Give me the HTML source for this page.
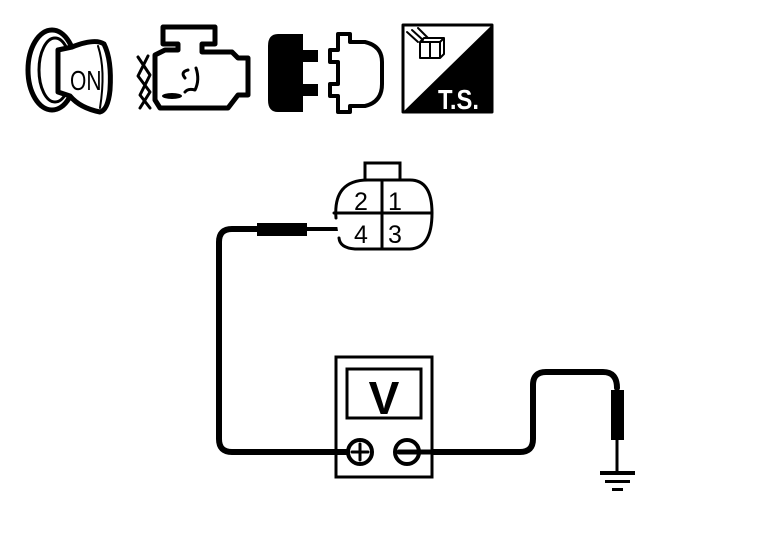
<!DOCTYPE html>
<html><head><style>html,body{margin:0;padding:0;background:#fff}svg{display:block}</style></head>
<body>
<svg width="768" height="544" viewBox="0 0 768 544" xmlns="http://www.w3.org/2000/svg">
<g fill="none" stroke="#000" stroke-linejoin="round" stroke-linecap="round">
<!-- key icon -->
<ellipse cx="52" cy="70" rx="24" ry="40" stroke-width="5"/>
<ellipse cx="55" cy="70" rx="16" ry="32" stroke-width="3"/>
<path d="M58 50 L72 47 Q95 38 104 44 Q112 60 110 90 Q108 110 100 112 Q80 108 70 96 L58 92 Z" fill="#fff" stroke-width="5"/>
<path d="M98 46 Q106 70 100 108" stroke-width="2"/>
<text x="0" y="0" font-family="Liberation Sans, sans-serif" font-size="28" fill="#000" stroke="none" transform="translate(70,90) scale(0.75,1)">ON</text>
<!-- engine icon -->
<path d="M163 27 H215 V44 H202 V52 H232 L238 58 H248 V95 H238 L228 108 H160 L155 100 V55 L165 50 H178 V44 H163 Z" fill="#fff" stroke-width="5"/>
<path d="M138 57 L150 75 L140 95 L150 108 M148 56 L138 76 L150 92 L140 108" stroke-width="3"/>
<path d="M185 78 Q180 72 188 70 M196 68 Q200 80 195 90 Q188 88 185 92" stroke-width="3"/>
<ellipse cx="172" cy="96" rx="10" ry="3" fill="#000" stroke="none"/>
<!-- connector icons -->
<path d="M278 34 H303 V50 H318 V62 H303 V84 H318 V96 H303 V112 H278 Q268 112 268 100 V46 Q268 34 278 34 Z" fill="#000" stroke="none"/>
<path d="M338 34 H350 V42 H365 Q382 46 382 62 V84 Q382 102 365 106 H350 V112 H338 V96 H330 V84 H338 V62 H330 V50 H338 Z" fill="#fff" stroke-width="4"/>
<!-- TS box -->
<rect x="403" y="25" width="89" height="87" stroke-width="3"/>
<path d="M403 112 L492 25 V112 Z" fill="#000" stroke="none"/>
<path d="M407 32 L418 42 M412 30 L423 40 M418 28 L428 38" stroke-width="2"/>
<path d="M420 42 H440 V58 H420 Z M430 42 V58 M420 42 L424 38 H444 L440 42 M440 58 L444 54 V38" stroke-width="2"/>
<text x="0" y="0" font-family="Liberation Sans, sans-serif" font-weight="bold" font-size="28" fill="#fff" stroke="none" transform="translate(438,109) scale(0.85,1)">T.S.</text>

<!-- wires -->
<path d="M305 229 H258 H232 Q219 229 219 242 V439 Q219 452 232 452 H335" stroke-width="6"/>
<path d="M305 229 H343" stroke-width="4"/>
<rect x="257" y="223" width="50" height="13" fill="#000" stroke="none"/>
<path d="M432 452 H520 Q533 452 533 439 V385 Q533 372 546 372 H603 Q617 372 617 388" stroke-width="6"/>
<rect x="611" y="390" width="13" height="50" fill="#000" stroke="none"/>
<path d="M617 440 V472" stroke-width="3"/>
<rect x="600" y="471" width="35" height="4" fill="#000" stroke="none"/>
<rect x="605" y="480" width="25" height="3" fill="#000" stroke="none"/>
<rect x="612" y="488" width="11" height="3" fill="#000" stroke="none"/>

<!-- sensor connector -->
<rect x="365" y="163" width="35" height="17" stroke-width="3" stroke-linejoin="miter"/>
<path d="M336 218 Q333 180 368 180 H410 Q432 180 432 213 Q432 248 410 249 H355 Q340 248 339 238" fill="#fff" stroke-width="3"/>
<path d="M382 180 V249 M334 213 H432" stroke-width="3"/>
<g font-family="Liberation Sans, sans-serif" font-size="25" fill="#000" stroke="none">
<text x="354" y="210">2</text><text x="388" y="210">1</text>
<text x="354" y="243">4</text><text x="388" y="243">3</text>
</g>

<!-- meter -->
<rect x="336" y="357" width="96" height="120" fill="#fff" stroke-width="3" stroke-linejoin="miter"/>
<rect x="347" y="369" width="74" height="49" stroke-width="3" stroke-linejoin="miter"/>
<text x="384" y="414" text-anchor="middle" font-family="Liberation Sans, sans-serif" font-weight="bold" font-size="46" fill="#000" stroke="none">V</text>
<path d="M335 452 H348" stroke-width="6"/>
<circle cx="360" cy="452" r="12" fill="#fff" stroke-width="4"/>
<path d="M352 452 H368 M360 444 V460" stroke-width="3"/>
<circle cx="407" cy="452" r="12" fill="#fff" stroke-width="4"/>
<path d="M399 452 H432" stroke-width="5"/>
</g>
</svg>
</body></html>
